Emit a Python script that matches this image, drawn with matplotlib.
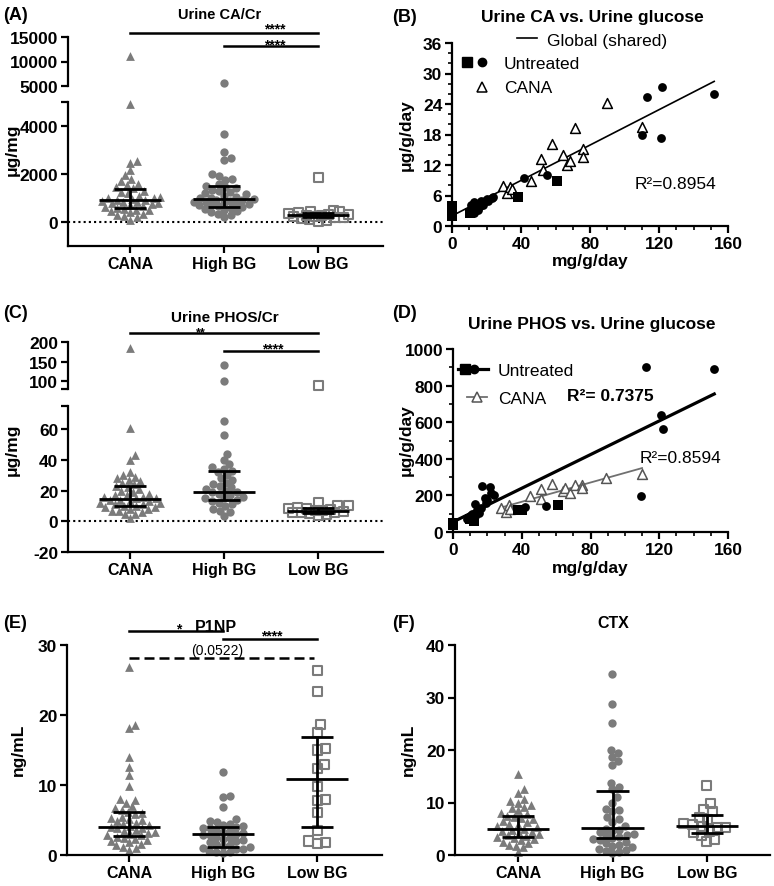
import numpy as np
import matplotlib.pyplot as plt
from matplotlib.transforms import blended_transform_factory

plt.rcParams['font.family'] = ['Liberation Sans', 'DejaVu Sans']

# ---------------- data ----------------
groups = ['CANA', 'High BG', 'Low BG']

# (A) urine CA/Cr, ug/mg
ca_cana = [11200, 4900, 2550, 2450, 2150, 1950, 1800, 1700, 1600, 1550, 1450, 1400, 1300,
           1250, 1200, 1100, 1050, 1000, 980, 950, 920, 900, 880, 850, 820, 800, 780, 750,
           700, 650, 620, 600, 560, 520, 480, 450, 400, 350, 300, 250, 200, 100]
ca_high = [5600, 3650, 2900, 2650, 2600, 2000, 1900, 1800, 1750, 1600, 1500, 1450, 1400,
           1350, 1300, 1250, 1200, 1150, 1100, 1050, 1000, 980, 950, 930, 900, 870, 850,
           820, 800, 780, 750, 720, 700, 650, 620, 600, 550, 500, 450, 400, 350, 300, 200]
ca_low = [1870, 480, 450, 420, 380, 350, 320, 300, 280, 260, 240, 220, 200, 180, 150, 120, 80, 30]
ca_median = [930, 960, 300]
ca_q1 = [580, 610, 200]
ca_q3 = [1370, 1490, 390]

# (C) urine PHOS/Cr, ug/mg
ph_cana = [185, 61, 43, 40, 32, 30, 29, 28, 27, 26, 25, 24, 23, 22, 21, 20, 19, 18, 17, 17,
           16, 16, 15, 15, 14, 14, 13, 13, 12, 12, 11, 11, 10, 10, 9, 9, 8, 8, 7, 7, 6, 5, 5, 2]
ph_high = [141, 100, 65, 56, 44, 40, 37, 35, 34, 33, 32, 30, 28, 27, 25, 24, 23, 22, 21, 20,
           19, 19, 18, 17, 16, 15, 15, 14, 13, 12, 11, 10, 8, 7, 6, 3.5]
ph_low = [90, 12, 10.5, 10, 9, 8.5, 8, 7.5, 7, 7, 6.5, 6, 6, 5.5, 5, 4.5, 4]
ph_median = [14.5, 18.8, 6.8]
ph_q1 = [10.2, 13.8, 5.6]
ph_q3 = [23.2, 32.8, 8.9]

# (E) P1NP, ng/mL
p1_cana = [26.8, 18.6, 18.2, 14, 12.6, 11.5, 9.8, 8, 7.9, 7.5, 7, 6.7, 6.5, 6.2, 6, 5.8, 5.5,
           5.3, 5.2, 5, 4.8, 4.6, 4.5, 4.3, 4.1, 4, 3.9, 3.8, 3.6, 3.5, 3.3, 3.2, 3, 2.9, 2.8,
           2.6, 2.5, 2.3, 2.1, 2, 1.8, 1.6, 1.4, 1.2, 1, 0.7]
p1_high = [11.8, 8.5, 8.3, 6.8, 5.1, 4.9, 4.7, 4.5, 4.3, 4.2, 4.0, 3.9, 3.8, 3.6, 3.5, 3.3,
           3.1, 3.0, 2.9, 2.8, 2.6, 2.5, 2.3, 2.1, 2.0, 1.8, 1.6, 1.5, 1.3, 1.2, 1.0, 0.9, 0.8,
           0.6, 0.5, 0.4, 0.3]
p1_low = [26.3, 23.3, 18.6, 17.5, 15.2, 15.0, 12.9, 12.3, 9.8, 7.9, 7.8, 6.1, 3.5, 2.0, 1.8, 1.7]
p1_median = [3.95, 2.95, 10.9]
p1_q1 = [2.7, 1.2, 4.05]
p1_q3 = [6.2, 4.05, 16.9]

# (F) CTX, ng/mL
ctx_cana = [15.5, 12.5, 11.8, 10.7, 10.3, 10, 9.6, 9.2, 9, 8.5, 8, 7.8, 7.5, 7.2, 7, 6.8, 6.5,
            6.2, 6, 5.8, 5.5, 5.3, 5, 4.8, 4.6, 4.4, 4.2, 4, 3.8, 3.6, 3.4, 3.2, 3, 2.8, 2.5,
            2.3, 2, 1.8, 1.5, 0.5]
ctx_high = [34.5, 28.7, 25.2, 20, 19.5, 18.7, 18, 17.2, 13.8, 13, 12.5, 11, 10, 8.8, 8.5, 8.3,
            7.2, 6.8, 6.3, 5.5, 5, 4.8, 4.6, 4.3, 4, 3.8, 3.6, 3.4, 3.2, 3, 2.8, 2.5, 2.2, 2,
            1.8, 1.5, 1.2, 1, 0.8, 0.5, 0.3]
ctx_low = [13.3, 9.8, 8.7, 8.2, 7.2, 6.8, 6, 5.8, 5.5, 5.3, 5.2, 4.5, 4.2, 3.8, 3.0, 2.5]
ctx_median = [4.9, 5.2, 5.5]
ctx_q1 = [3.5, 3.2, 4.1]
ctx_q3 = [7.5, 12.1, 7.6]

# (B) urine CA vs urine glucose
b_sq_x = [0, 0, 0, 10.5, 38.5, 61]
b_sq_y = [3.9, 3.0, 2.0, 2.6, 5.7, 8.8]
b_ci_x = [10, 11, 12, 13, 13, 14, 15, 16, 17, 18, 19, 20, 21, 23, 24, 42, 55, 110, 113, 121, 122, 152]
b_ci_y = [2.8, 4.2, 3.4, 4.8, 2.6, 4.4, 3.2, 4.0, 4.9, 4.2, 5.0, 5.4, 5.0, 5.5, 5.8, 9.5, 10.1,
          17.9, 25.3, 17.4, 27.3, 26.0]
b_tr_x = [29.5, 31.8, 33.7, 34.7, 45.9, 51.6, 53, 58.2, 64.5, 66.5, 68.4, 71.3, 75.7, 75.7, 89.6, 110.2]
b_tr_y = [7.9, 6.4, 7.7, 7.2, 8.9, 13.2, 11.0, 16.1, 13.9, 12.0, 12.8, 19.2, 15.1, 13.6, 24.2, 19.4]
b_fit = (2.0, 0.174)          # intercept, slope of the shared line
b_fit_range = (0, 152)

# (D) urine PHOS vs urine glucose
d_sq_x = [0, 0, 10, 12, 37.8, 40, 61]
d_sq_y = [40, 50, 70, 62, 118, 120, 145]
d_ci_x = [8, 10, 11, 12.6, 13, 14, 15, 16, 17, 18.4, 19, 20, 21.3, 22.3, 23.7, 41.7, 54.3,
          109.6, 112.5, 121.2, 122.2, 151.9]
d_ci_y = [72, 85, 100, 155, 90, 120, 105, 130, 252, 185, 160, 175, 245, 215, 200, 138, 142,
          198, 902, 642, 565, 888]
d_tr_x = [28.1, 30.6, 32.4, 33.4, 45, 51, 51.4, 57.6, 64, 65.4, 67.9, 70.8, 75.2, 75.2, 89.2, 110.2]
d_tr_y = [132, 110, 150, 128, 198, 236, 183, 265, 225, 238, 212, 256, 256, 238, 296, 318]
d_fit_unt = (55, 4.6)
d_fit_unt_range = (0, 152)
d_fit_cana = (60, 2.63)
d_fit_cana_range = (28.5, 110)

# ---------------- figure ----------------
W, H = 774, 887
fig = plt.figure(figsize=(W / 100, H / 100), dpi=100)
GRAY = '#7b7b7b'


def add_ax(x0, y0, x1, y1):
    return fig.add_axes([x0 / W, 1 - y1 / H, (x1 - x0) / W, (y1 - y0) / H])


def ftext(x, y, s, size=12, weight='normal', ha='left'):
    # y = visual middle of the capitals, pixels from top
    fig.text(x / W, 1 - (y + 0.36 * size * 100 / 72) / H, s, fontsize=size,
             fontweight=weight, ha=ha, va='baseline')


def ylab(x, y, s):
    fig.text(x / W, 1 - y / H, s, fontsize=12.5, fontweight='bold', rotation=90,
             ha='center', va='center')


def clean(ax, bottom=True):
    ax.spines['top'].set_visible(False)
    ax.spines['right'].set_visible(False)
    ax.spines['left'].set_linewidth(1.6)
    ax.spines['bottom'].set_linewidth(1.6)
    if not bottom:
        ax.spines['bottom'].set_visible(False)
        ax.set_xticks([])
    ax.tick_params(width=1.6, length=5, labelsize=12.5, pad=2)
    ax.tick_params(which='minor', width=1.2, length=3)
    ax.patch.set_alpha(0)


def swarm(ax, xc, vals, d, maxw=30):
    # simple beeswarm in pixel space, kept within +-maxw pixels
    vals = np.asarray(vals, float)
    pix = ax.transData.transform(np.column_stack([np.full(len(vals), xc), vals]))
    ys = pix[:, 1]
    x0 = pix[0, 0]
    xs = np.zeros(len(vals))
    placed = []
    for i in np.argsort(ys):
        y = ys[i]
        near = [(px, py) for px, py in placed if abs(y - py) < d]
        cand = [0.0]
        for px, py in near:
            dx = np.sqrt(d * d - (y - py) ** 2)
            cand += [px + dx, px - dx]
        cand = sorted([c for c in cand if abs(c) <= maxw], key=abs)
        chosen = None
        for c in cand:
            if all((c - px) ** 2 + (y - py) ** 2 >= d * d - 1e-6 for px, py in near):
                chosen = c
                break
        if chosen is None:
            grid = np.linspace(-maxw, maxw, 41)
            chosen = max(grid, key=lambda g: min((g - px) ** 2 + (y - py) ** 2 for px, py in near))
        xs[i] = chosen
        placed.append((chosen, y))
    back = ax.transData.inverted().transform(np.column_stack([x0 + xs, ys]))
    return back[:, 0], vals


def dots(axes, xc, vals, marker):
    for ax in axes:
        lo, hi = ax.get_ylim()
        sub = [v for v in vals if lo <= v < hi]
        if not sub:
            continue
        if marker == 's':
            x, y = swarm(ax, xc, sub, 8.5)
            ax.scatter(x, y, s=42, marker='s', facecolors='none', edgecolors=GRAY,
                       linewidths=1.5, zorder=2, clip_on=False)
        else:
            x, y = swarm(ax, xc, sub, 7.0)
            ax.scatter(x, y, s=40 if marker == '^' else 36, marker=marker, color=GRAY,
                       linewidths=0, zorder=2, clip_on=False)


def med_iqr(ax, med, q1, q3):
    for i in range(3):
        ax.hlines(med[i], i - 0.33, i + 0.33, color='k', lw=2, zorder=3)
        ax.hlines([q1[i], q3[i]], i - 0.17, i + 0.17, color='k', lw=2, zorder=3)
        ax.vlines(i, q1[i], q3[i], color='k', lw=2, zorder=3)


def sig(ax, x1, x2, ypx, label, lx, lypx, dashed=False, size=10, weight='bold'):
    tr = blended_transform_factory(ax.transData, fig.transFigure)
    ax.plot([x1, x2], [1 - ypx / H] * 2, transform=tr, color='k', lw=1.8,
            ls=(0, (4, 2)) if dashed else '-', clip_on=False)
    off = 0.55 if label.startswith('*') else 0.36
    ax.text(lx, 1 - (lypx + off * size * 100 / 72) / H, label, transform=tr, fontsize=size,
            fontweight=weight, ha='center', va='baseline')


def cat_axis(ax):
    ax.set_xlim(-0.66, 2.69)
    ax.set_xticks([0, 1, 2], groups, fontsize=11.5, fontweight='bold')


XL = (-0.66, 2.69)

# ---------- (A) ----------
axA_up = add_ax(68, 38, 383, 87)
axA = add_ax(68, 103, 383, 247)
for ax in (axA_up, axA):
    ax.set_xlim(*XL)
axA_up.set_ylim(5000, 15000)
axA.set_ylim(-1000, 5000)
clean(axA_up, bottom=False)
clean(axA)
axA_up.set_yticks([5000, 10000, 15000], ['5000', '10000', '15000'], fontweight='bold')
axA.set_yticks([0, 2000, 4000, 5000], ['0', '2000', '4000', ''], fontweight='bold')
cat_axis(axA)
axA.axhline(0, color='k', lw=1.5, ls=(0, (1, 1.5)), zorder=1)
for i, (vals, m) in enumerate([(ca_cana, '^'), (ca_high, 'o'), (ca_low, 's')]):
    dots([axA, axA_up], i, vals, m)
med_iqr(axA, ca_median, ca_q1, ca_q3)
sig(axA, 0, 2, 34, '****', 1.54, 25.5)
sig(axA, 1, 2, 47, '****', 1.54, 42)

# ---------- (C) ----------
axC_up = add_ax(68, 343, 383, 390)
axC = add_ax(68, 407, 383, 553)
for ax in (axC_up, axC):
    ax.set_xlim(*XL)
axC_up.set_ylim(80, 200)
axC.set_ylim(-20, 75)
clean(axC_up, bottom=False)
clean(axC)
axC_up.set_yticks([80, 100, 150, 200], ['', '100', '150', '200'], fontweight='bold')
axC.set_yticks([-20, 0, 20, 40, 60, 75], ['-20', '0', '20', '40', '60', ''], fontweight='bold')
cat_axis(axC)
axC.axhline(0, color='k', lw=1.5, ls=(0, (1, 1.5)), zorder=1)
for i, (vals, m) in enumerate([(ph_cana, '^'), (ph_high, 'o'), (ph_low, 's')]):
    dots([axC, axC_up], i, vals, m)
med_iqr(axC, ph_median, ph_q1, ph_q3)
sig(axC, 0, 2, 334, '**', 0.75, 329.5, size=9)
sig(axC, 1, 2, 352, '****', 1.52, 346)

# ---------- (E) ----------
axE = add_ax(67, 646, 382, 856)
axE.set_ylim(0, 30)
clean(axE)
axE.set_yticks([0, 10, 20, 30], ['0', '10', '20', '30'], fontweight='bold')
cat_axis(axE)
for i, (vals, m) in enumerate([(p1_cana, '^'), (p1_high, 'o'), (p1_low, 's')]):
    dots([axE], i, vals, m)
med_iqr(axE, p1_median, p1_q1, p1_q3)
sig(axE, 0, 1, 632, '*', 0.53, 626)
sig(axE, 1, 2, 640, '****', 1.52, 633)
sig(axE, 0, 1.97, 659, '(0.0522)', 0.94, 650, dashed=True, weight='normal')

# ---------- (F) ----------
axF = add_ax(455, 646, 770, 856)
axF.set_ylim(0, 40)
clean(axF)
axF.set_yticks([0, 10, 20, 30, 40], ['0', '10', '20', '30', '40'], fontweight='bold')
axF.set_xlim(-0.67, 2.67)
axF.set_xticks([0, 1, 2], groups, fontsize=11.5, fontweight='bold')
for i, (vals, m) in enumerate([(ctx_cana, '^'), (ctx_high, 'o'), (ctx_low, 's')]):
    dots([axF], i, vals, m)
med_iqr(axF, ctx_median, ctx_q1, ctx_q3)

# ---------- (B) ----------
axB = add_ax(452, 44, 728, 227)
axB.set_xlim(0, 160)
axB.set_ylim(0, 36)
clean(axB)
axB.set_xticks([0, 40, 80, 120, 160], ['0', '40', '80', '120', '160'], fontweight='bold')
axB.set_xticks([v for v in range(10, 160, 10) if v % 40], minor=True)
axB.set_yticks(list(range(0, 37, 6)), [str(v) for v in range(0, 37, 6)], fontweight='bold')
axB.set_yticks([v for v in range(2, 36, 2) if v % 6], minor=True)
xf = np.array(b_fit_range)
axB.plot(xf, b_fit[0] + b_fit[1] * xf, color='k', lw=1.2, zorder=1)
axB.scatter(b_tr_x, b_tr_y, s=50, marker='^', facecolors='white', edgecolors='k',
            linewidths=1.1, zorder=2)
axB.scatter(b_ci_x, b_ci_y, s=40, marker='o', color='k', linewidths=0, zorder=3)
axB.scatter(b_sq_x, b_sq_y, s=62, marker='s', color='k', linewidths=0, zorder=3, clip_on=False)
axB.set_xlabel('mg/g/day', fontsize=12.5, fontweight='bold', labelpad=2)

# ---------- (D) ----------
axD = add_ax(453, 350, 728, 533)
axD.set_xlim(0, 160)
axD.set_ylim(0, 1000)
clean(axD)
axD.set_xticks([0, 40, 80, 120, 160], ['0', '40', '80', '120', '160'], fontweight='bold')
axD.set_xticks([v for v in range(10, 160, 10) if v % 40], minor=True)
axD.set_yticks(list(range(0, 1001, 200)), [str(v) for v in range(0, 1001, 200)], fontweight='bold')
axD.set_yticks(list(range(100, 1000, 200)), minor=True)
xu = np.array(d_fit_unt_range)
axD.plot(xu, d_fit_unt[0] + d_fit_unt[1] * xu, color='k', lw=2.3, zorder=1)
xc = np.array(d_fit_cana_range)
axD.plot(xc, d_fit_cana[0] + d_fit_cana[1] * xc, color='#707070', lw=1.3, zorder=1)
axD.scatter(d_tr_x, d_tr_y, s=50, marker='^', facecolors='white', edgecolors='#555555',
            linewidths=1.1, zorder=2)
axD.scatter(d_ci_x, d_ci_y, s=40, marker='o', color='k', linewidths=0, zorder=3)
axD.scatter(d_sq_x, d_sq_y, s=62, marker='s', color='k', linewidths=0, zorder=3, clip_on=False)
axD.set_xlabel('mg/g/day', fontsize=12.5, fontweight='bold', labelpad=2)


# legends drawn by hand in figure pixels
def fline(x1, x2, y, **kw):
    fig.add_artist(plt.Line2D([x1 / W, x2 / W], [1 - y / H] * 2, transform=fig.transFigure, **kw))


def fmark(x, y, **kw):
    fig.add_artist(plt.Line2D([x / W], [1 - y / H], transform=fig.transFigure, ls='none', **kw))


fline(517, 537, 39, color='k', lw=1.2)
ftext(547, 40, 'Global (shared)', 12.5)
fmark(467, 63, marker='s', ms=6.5, color='k')
fmark(482, 63, marker='o', ms=6, color='k')
ftext(504, 63, 'Untreated', 12.5)
fmark(482, 88, marker='^', ms=6.5, mfc='white', mec='k', mew=1.1)
ftext(504, 87, 'CANA', 12.5)
ftext(635, 183, 'R²=0.8954', 12.5)

fline(458, 488, 370, color='k', lw=2.3)
fmark(465, 370, marker='s', ms=6.5, color='k')
fmark(474, 370, marker='o', ms=6, color='k')
ftext(498, 370, 'Untreated', 12.5)
fline(467, 487, 398, color='#707070', lw=1.3)
fmark(477, 398, marker='^', ms=6.5, mfc='white', mec='#555555', mew=1.1)
ftext(498, 398, 'CANA', 12.5)
ftext(567, 395, 'R²= 0.7375', 12.5, 'bold')
ftext(640, 457, 'R²=0.8594', 12.5)

# y labels
ylab(12, 150, 'μg/mg')
ylab(12, 450, 'μg/mg')
ylab(18, 750, 'ng/mL')
ylab(408, 750, 'ng/mL')
ylab(406, 135, 'μg/g/day')
ylab(406, 440, 'μg/g/day')

# titles and panel letters
ftext(220, 14, 'Urine CA/Cr', 10.5, 'bold', 'center')
ftext(592, 16, 'Urine CA vs. Urine glucose', 12.5, 'bold', 'center')
ftext(225, 317, 'Urine PHOS/Cr', 11, 'bold', 'center')
ftext(592, 323, 'Urine PHOS vs. Urine glucose', 12.5, 'bold', 'center')
ftext(216, 626, 'P1NP', 11.5, 'bold', 'center')
ftext(613, 622, 'CTX', 11.5, 'bold', 'center')
for x, y, s in [(3, 14, '(A)'), (392, 15, '(B)'), (3, 312, '(C)'), (392, 312, '(D)'),
                (3, 622, '(E)'), (392, 622, '(F)')]:
    ftext(x, y, s, 13, 'bold')

fig.savefig('out.png', dpi=100)
